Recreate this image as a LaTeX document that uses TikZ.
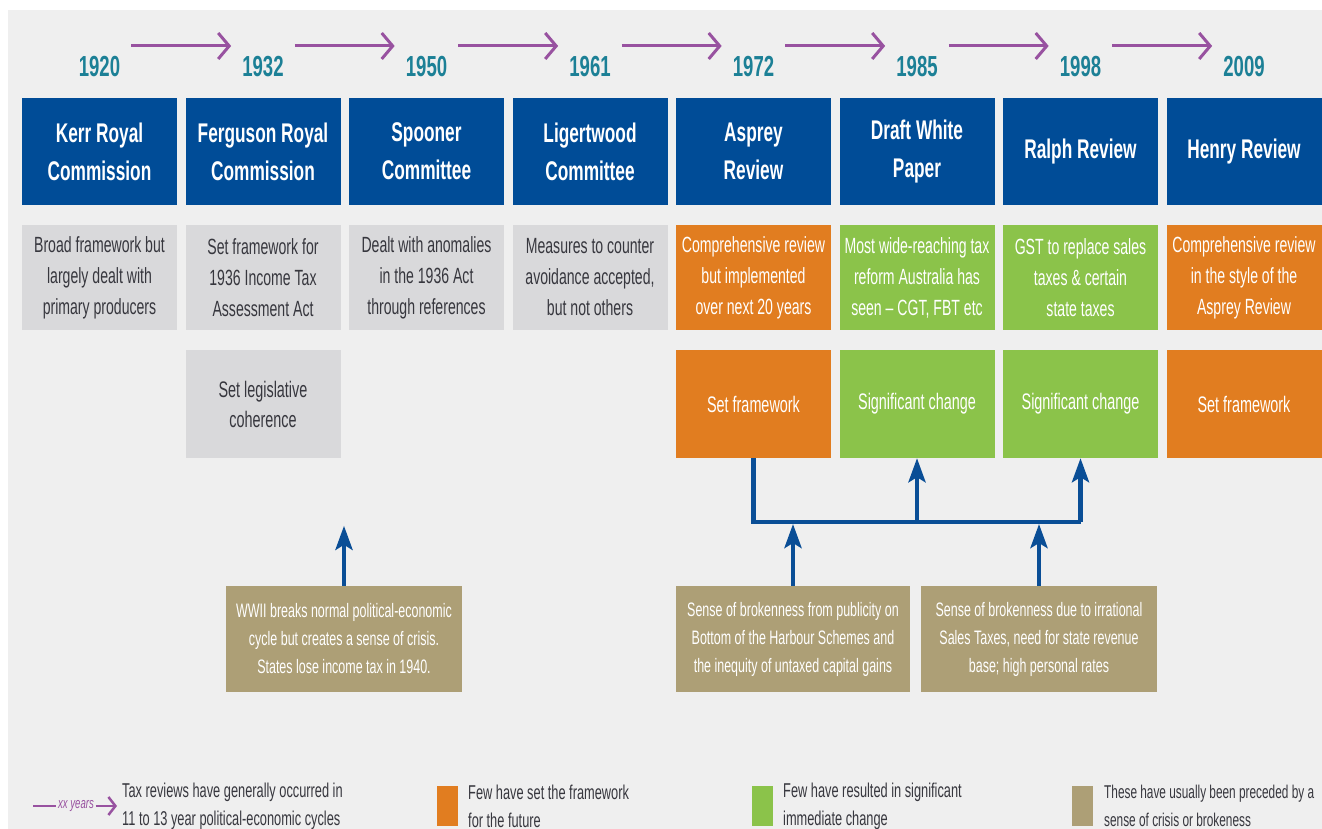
\documentclass[tikz,border=0pt]{standalone}
\usepackage{fontspec}
\setmainfont{Liberation Sans}[FakeStretch=0.64]
\usetikzlibrary{arrows.meta,calc}

\definecolor{revblue}{RGB}{0,76,151}
\definecolor{yearteal}{RGB}{28,128,150}
\definecolor{cyclepurple}{RGB}{152,82,160}
\definecolor{notegray}{RGB}{217,217,219}
\definecolor{notetext}{RGB}{55,55,62}
\definecolor{frameorange}{RGB}{225,125,32}
\definecolor{changegreen}{RGB}{139,195,74}
\definecolor{crisisbrown}{RGB}{173,159,118}
\definecolor{panelgray}{RGB}{239,239,239}
\definecolor{linkblue}{RGB}{10,78,150}

\tikzset{
  year/.style={text=yearteal, inner sep=0pt, font=\bfseries\fontsize{29}{30}\selectfont},
  cyclearrow/.style={cyclepurple, line width=3pt, -{Straight Barb[length=11pt,width=26pt,line width=3pt]}},
  revbox/.style={fill=revblue, text=white, minimum width=155pt, minimum height=107pt, inner sep=0pt, align=center, font=\bfseries\fontsize{27}{38}\selectfont},
  desc/.style={minimum width=155pt, minimum height=105pt, inner sep=0pt, align=center, font=\fontsize{22}{31}\selectfont},
  outbox/.style={minimum width=155pt, minimum height=108pt, inner sep=0pt, align=center, font=\fontsize{22.5}{30}\selectfont},
  note/.style={fill=notegray, text=notetext},
  frame/.style={fill=frameorange, text=white},
  change/.style={fill=changegreen, text=white},
  cause/.style={fill=crisisbrown, text=white, minimum height=106pt, inner sep=0pt, align=center, font=\fontsize{19.5}{28}\selectfont},
  link/.style={linkblue, line width=4.5pt},
  linkarrow/.style={link, -{Stealth[length=24pt,width=17pt,inset=5pt]}},
  keysq/.style={minimum width=21pt, minimum height=40pt, inner sep=0pt},
  keytext/.style={text=notetext, align=left, inner sep=0pt, font=\fontsize{20}{28}\selectfont}
}

\begin{document}
\begin{tikzpicture}[x=1pt,y=1pt]

% background panel
\clip (0,0) rectangle (1322,829);
\fill[white] (0,0) rectangle (1322,829);
\fill[panelgray] (8,0) rectangle (1322,819);

% years and reviews
\foreach \i/\yr/\name in {1/1920/{Kerr Royal\\Commission}, 2/1932/{Ferguson Royal\\Commission}, 3/1950/{Spooner\\Committee}, 4/1961/{Ligertwood\\Committee}, 5/1972/{Asprey\\Review}, 6/1985/{Draft White\\Paper}, 7/1998/{Ralph Review}, 8/2009/{Henry Review}} {
  \node[year] (yr\i) at ({99.5+163.5*(\i-1)},762) {\yr};
  \node[revbox] (rev\i) at ({99.5+163.5*(\i-1)},677.5) {\name};
}

% cycles between years
\foreach \i [evaluate=\i as \j using int(\i+1)] in {1,...,7} {
  \draw[cyclearrow] ($(yr\i.east)+(11,21)$) -- ($(yr\j.west)+(-11,21)$);
}

% what each review did
\foreach \i/\kind/\txt in {1/note/{Broad framework but\\largely dealt with\\primary producers}, 2/note/{Set framework for\\1936 Income Tax\\Assessment Act}, 3/note/{Dealt with anomalies\\in the 1936 Act\\through references}, 4/note/{Measures to counter\\avoidance accepted,\\but not others}, 5/frame/{Comprehensive review\\but implemented\\over next 20 years}, 6/change/{Most wide-reaching tax\\reform Australia has\\seen -- CGT, FBT etc}, 7/change/{GST to replace sales\\taxes \& certain\\state taxes}, 8/frame/{Comprehensive review\\in the style of the\\Asprey Review}} {
  \node[desc,\kind] (desc\i) at ({99.5+163.5*(\i-1)},551.5) {\txt};
}

% outcomes
\node[outbox,note] (out2) at (263,425) {Set legislative\\coherence};
\foreach \i/\kind/\txt in {5/frame/Set framework, 6/change/Significant change, 7/change/Significant change, 8/frame/Set framework} {
  \node[outbox,\kind] (out\i) at ({99.5+163.5*(\i-1)},425) {\txt};
}

% sense of crisis
\node[cause, minimum width=236pt] (cause1) at (344,190) {WWII breaks normal political-economic\\cycle but creates a sense of crisis.\\States lose income tax in 1940.};
\node[cause, minimum width=234pt] (cause2) at (793,190) {Sense of brokenness from publicity on\\Bottom of the Harbour Schemes and\\the inequity of untaxed capital gains};
\node[cause, minimum width=236pt] (cause3) at (1039,190) {Sense of brokenness due to irrational\\Sales Taxes, need for state revenue\\base; high personal rates};

% connectors
\coordinate (bar) at (0,307);
\coordinate (wwtip) at ($(cause1.north)+(0,60)$);
\draw[link] (out5.south) -- (out5.south |- bar) -- (out7.south |- bar);
\draw[linkarrow] (out6.south |- bar) -- (out6.south);
\draw[linkarrow] (out7.south |- bar) -- (out7.south);
\draw[linkarrow] (cause2.north) -- ([yshift=-2pt]cause2.north |- bar);
\draw[linkarrow] (cause3.north) -- ([yshift=-2pt]cause3.north |- bar);
\draw[linkarrow] (cause1.north) -- (wwtip);

% legend
\coordinate (keyL) at (33,23);
\coordinate (keyR) at (117,23);
\node[text=cyclepurple, inner sep=1.5pt, font=\itshape\fontsize{15}{15}\selectfont] (keyyr) at (76,23) {xx years};
\draw[cyclepurple, line width=2.5pt] (keyL) -- (keyyr.west);
\draw[cyclepurple, line width=2.5pt, -{Straight Barb[length=7pt,width=18pt,line width=2.5pt]}] (keyyr.east) -- (keyR);
\node[keytext, anchor=west] (key1) at (122,23) {Tax reviews have generally occurred in\\11 to 13 year political-economic cycles};
\node[keysq, fill=frameorange] (key2) at (447,23) {};
\node[keytext, anchor=west] (key2txt) at (468,23) {Few have set the framework\\for the future};
\node[keysq, fill=changegreen] (key3) at (762,23) {};
\node[keytext, anchor=west] (key3txt) at (783,23) {Few have resulted in significant\\immediate change};
\node[keysq, fill=crisisbrown] (key4) at (1082,23) {};
\node[keytext, anchor=west, font=\fontsize{18.5}{28}\selectfont] (key4txt) at (1104,23) {These have usually been preceded by a\\sense of crisis or brokeness};

\end{tikzpicture}
\end{document}
